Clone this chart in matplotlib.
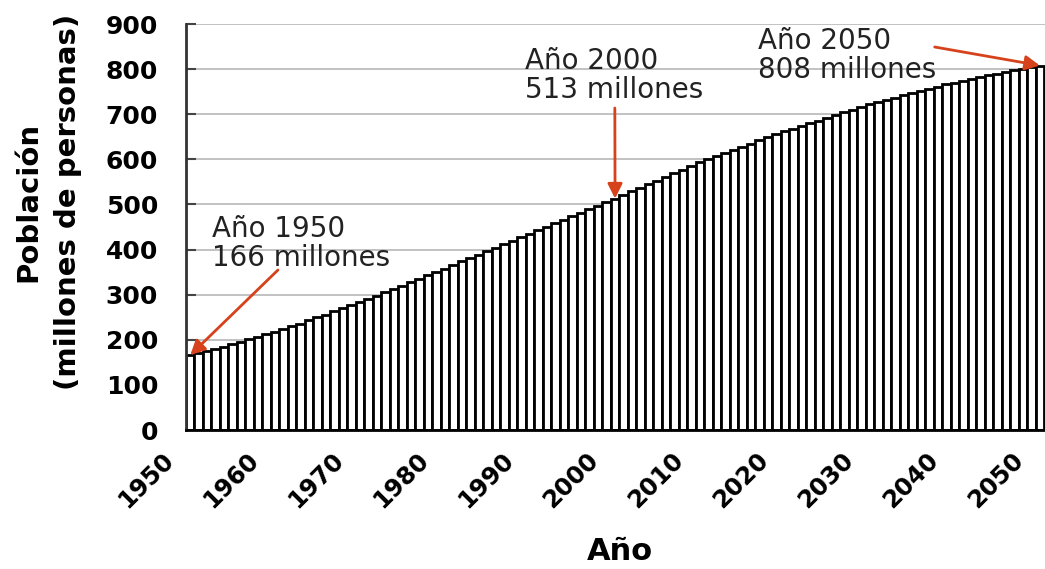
import matplotlib
matplotlib.use("Agg")
import matplotlib.pyplot as plt
from matplotlib.transforms import ScaledTranslation

# ---- data ----
years = list(range(1950, 2051))
population = [
    166, 170, 175, 180, 185, 190, 195, 201, 206, 212,   # 1950s
    217, 223, 230, 236, 243, 250, 256, 263, 270, 276,   # 1960s
    283, 290, 298, 305, 313, 320, 328, 335, 343, 350,   # 1970s
    358, 366, 374, 381, 389, 397, 404, 412, 420, 427,   # 1980s
    435, 443, 451, 458, 466, 474, 482, 490, 497, 505,   # 1990s
    513, 521, 529, 537, 545, 553, 561, 569, 577, 585,   # 2000s
    593, 600, 607, 614, 621, 628, 635, 642, 649, 656,   # 2010s
    662, 668, 674, 680, 686, 692, 698, 704, 710, 716,   # 2020s
    722, 727, 732, 737, 742, 747, 752, 757, 761, 766,   # 2030s
    770, 774, 778, 782, 786, 790, 793, 797, 800, 804,   # 2040s
    808,                                                # 2050
]
tick_years = list(range(1950, 2051, 10))
tick_labels = [str(y) for y in tick_years]
y_ticks = list(range(0, 901, 100))
ann_years = [1950, 2000, 2050]
ann_values = [166, 513, 808]
ann_texts = ["Año 1950\n166 millones", "Año 2000\n513 millones", "Año 2050\n808 millones"]

W, H = 1045, 569
fig = plt.figure(figsize=(W / 100, H / 100), dpi=100)
fig.patch.set_facecolor("white")
ax = fig.add_axes([186 / W, 1 - 430 / H, (W - 186) / W, (430 - 24) / H])

ax.bar(years, population, width=1.0, color="white", edgecolor="black",
       linewidth=2.0, zorder=2)

ax.set_xlim(1949.5, 2050.6)
ax.set_ylim(0, 900)
ax.set_yticks(y_ticks)
ax.set_xticks(tick_years)
ax.tick_params(axis="y", direction="in", length=7, width=1.5, color="#444444",
               labelsize=18, pad=20)
ax.tick_params(axis="x", length=0, pad=13)
xlabs = ax.set_xticklabels(tick_labels, rotation=45, ha="right", va="top",
                           rotation_mode="anchor", fontsize=17.5, fontweight="bold")
for lab in ax.get_yticklabels():
    lab.set_fontweight("bold")
shift = ScaledTranslation(-29 / 100, 0, fig.dpi_scale_trans)
for tick in ax.xaxis.get_major_ticks():
    tick.label1.set_transform(tick.label1.get_transform() + shift)

ax.yaxis.grid(True, color="#bdbdbd", linewidth=1.3, zorder=0)
ax.set_axisbelow(True)
for s in ["right", "top"]:
    ax.spines[s].set_visible(False)
ax.spines["left"].set_linewidth(2.0)
ax.spines["left"].set_color("#333333")
ax.spines["bottom"].set_linewidth(2.0)
ax.spines["bottom"].set_color("black")

ax.set_ylabel("Población\n(millones de personas)", fontsize=21,
              fontweight="bold", linespacing=1.55)
ax.yaxis.label.set_va("center")
ax.yaxis.set_label_coords((48 - 186) / 859, (430 - 202) / 406)
ax.set_xlabel("Año", fontsize=22, fontweight="bold")
ax.xaxis.label.set_va("center")
ax.xaxis.set_label_coords((620 - 186) / 859, (430 - 552) / 406)

def px2data(px, py):
    return 1949.5 + (px - 186) / 8.5, (430 - py) * 900 / 406

arrow_color = "#d5421c"
text_pos = [(212, 215), (525, 47), (758, 27)]
tail_pos = [(278, 270), (615, 108), (935, 47)]
for yr, val, txt, tp, tl in zip(ann_years, ann_values, ann_texts, text_pos, tail_pos):
    tx, ty = px2data(*tp)
    ax.text(tx, ty, txt, fontsize=20, color="#222222", ha="left", va="top",
            linespacing=1.05, zorder=5)
    sx, sy = px2data(*tl)
    ax.annotate("", xy=(yr, val), xytext=(sx, sy),
                arrowprops=dict(arrowstyle="-|>", color=arrow_color, lw=2,
                                mutation_scale=22, shrinkA=0, shrinkB=0),
                zorder=6, annotation_clip=False)

fig.savefig("out.png", dpi=100)
